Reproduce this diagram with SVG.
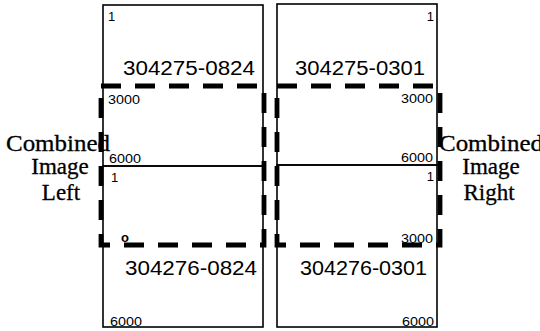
<svg xmlns="http://www.w3.org/2000/svg" width="540" height="331" viewBox="0 0 540 331">
<style>
.box{fill:none;stroke:#000;stroke-width:1.6}
.dash{fill:none;stroke:#000;stroke-width:4.8;stroke-dasharray:20 14}
.id{font-family:"Liberation Sans",Arial,sans-serif;font-size:20px;fill:#000}
.sm{font-family:"Liberation Sans",Arial,sans-serif;font-size:13px;fill:#000}
.lab{font-family:"Liberation Serif","Times New Roman",serif;font-size:23px;fill:#000;text-anchor:middle;stroke:#000;stroke-width:0.3}
</style>
<rect width="540" height="331" fill="#fff"/>
<g id="box-304275-0824">
<rect class="box" x="103" y="5" width="160" height="161"/>
<text class="sm" x="108" y="21">1</text>
<text class="id" x="123" y="75" textLength="132" lengthAdjust="spacingAndGlyphs">304275-0824</text>
<text class="sm" x="108" y="104" textLength="32" lengthAdjust="spacingAndGlyphs">3000</text>
<text class="sm" x="109" y="163" textLength="32" lengthAdjust="spacingAndGlyphs">6000</text>
</g>
<g id="box-304276-0824">
<rect class="box" x="103" y="166" width="160" height="161"/>
<text class="sm" x="111" y="182">1</text>
<text class="sm" x="121" y="242" font-weight="bold">o</text>
<text class="id" x="125" y="275" textLength="132" lengthAdjust="spacingAndGlyphs">304276-0824</text>
<text class="sm" x="110" y="326" textLength="32" lengthAdjust="spacingAndGlyphs">6000</text>
</g>
<g id="box-304275-0301">
<rect class="box" x="277" y="4" width="160" height="161"/>
<text class="sm" x="434" y="21" text-anchor="end">1</text>
<text class="id" x="295" y="75" textLength="130" lengthAdjust="spacingAndGlyphs">304275-0301</text>
<text class="sm" x="401" y="103" textLength="32" lengthAdjust="spacingAndGlyphs">3000</text>
<text class="sm" x="401" y="162" textLength="32" lengthAdjust="spacingAndGlyphs">6000</text>
</g>
<g id="box-304276-0301">
<rect class="box" x="277" y="165" width="160" height="162"/>
<text class="sm" x="434" y="181" text-anchor="end">1</text>
<text class="sm" x="401" y="243" textLength="32" lengthAdjust="spacingAndGlyphs">3000</text>
<text class="id" x="300" y="275" textLength="127" lengthAdjust="spacingAndGlyphs">304276-0301</text>
<text class="sm" x="402" y="326" textLength="32" lengthAdjust="spacingAndGlyphs">6000</text>
</g>
<g id="connectors">
<rect class="dash" x="101" y="86" width="163" height="159"/>
<rect class="dash" x="277" y="86" width="163" height="159"/>
</g>
<g id="label-left">
<text class="lab" x="58" y="151" textLength="104" lengthAdjust="spacingAndGlyphs">Combined</text>
<text class="lab" x="60" y="174">Image</text>
<text class="lab" x="61" y="200">Left</text>
</g>
<g id="label-right">
<text class="lab" x="491" y="151" textLength="104" lengthAdjust="spacingAndGlyphs">Combined</text>
<text class="lab" x="491" y="174">Image</text>
<text class="lab" x="489" y="200">Right</text>
</g>
</svg>
